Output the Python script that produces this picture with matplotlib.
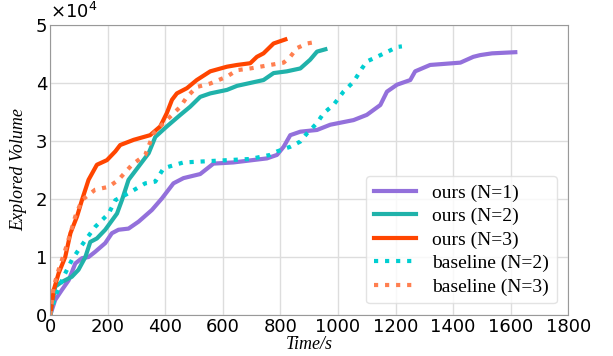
import numpy as np
import matplotlib
matplotlib.use('Agg')
import matplotlib.pyplot as plt

# values in units of 1e4
t_ours1 = [0, 17, 40, 64, 87, 110, 133, 156, 191, 214, 237, 272, 307, 353, 388, 428, 463, 521, 567,
           636, 753, 788, 811, 834, 869, 927, 973, 1054, 1100, 1147, 1170, 1205, 1251, 1268, 1320,
           1425, 1470, 1494, 1535, 1616]
v_ours1 = [0, 0.26, 0.43, 0.6, 0.89, 0.98, 1.0, 1.09, 1.24, 1.41, 1.47, 1.49, 1.61, 1.81, 2.01, 2.27,
           2.36, 2.43, 2.61, 2.63, 2.70, 2.76, 2.90, 3.10, 3.16, 3.19, 3.28, 3.36, 3.45, 3.62, 3.85,
           3.97, 4.05, 4.2, 4.31, 4.35, 4.45, 4.48, 4.51, 4.53]

t_ours2 = [0, 17, 40, 75, 98, 122, 139, 162, 191, 232, 249, 272, 307, 342, 365, 405, 452, 486, 521,
           556, 614, 649, 695, 741, 776, 822, 869, 903, 927, 956]
v_ours2 = [0, 0.49, 0.57, 0.66, 0.78, 1.0, 1.26, 1.32, 1.47, 1.75, 1.98, 2.33, 2.56, 2.79, 3.07, 3.25,
           3.45, 3.59, 3.76, 3.82, 3.88, 3.95, 4.0, 4.05, 4.17, 4.2, 4.25, 4.40, 4.54, 4.58]

t_ours3 = [0, 12, 29, 52, 70, 93, 110, 133, 162, 197, 226, 243, 290, 347, 382, 405, 423, 440, 475,
           509, 556, 614, 649, 695, 718, 741, 776, 817]
v_ours3 = [0, 0.43, 0.72, 1.0, 1.41, 1.70, 1.98, 2.33, 2.59, 2.67, 2.82, 2.93, 3.02, 3.10, 3.25, 3.48,
           3.71, 3.82, 3.91, 4.05, 4.20, 4.28, 4.31, 4.34, 4.45, 4.51, 4.68, 4.75]

t_base2 = [0, 17, 46, 75, 98, 122, 156, 203, 226, 272, 330, 365, 394, 434, 463, 579, 695, 764, 788,
           834, 869, 892, 927, 950, 984, 1019, 1054, 1083, 1100, 1135, 1181, 1205, 1222]
v_base2 = [0, 0.32, 0.66, 0.95, 1.12, 1.29, 1.52, 1.75, 1.98, 2.10, 2.27, 2.30, 2.53, 2.59, 2.63, 2.66,
           2.69, 2.76, 2.82, 2.90, 2.99, 3.13, 3.31, 3.48, 3.62, 3.85, 4.02, 4.25, 4.37, 4.45, 4.56,
           4.62, 4.63]

t_base3 = [0, 12, 29, 52, 70, 87, 110, 156, 203, 237, 284, 330, 359, 382, 417, 452, 475, 509, 556,
           614, 649, 695, 764, 811, 834, 857, 892, 927]
v_base3 = [0, 0.49, 0.78, 1.12, 1.41, 1.70, 1.98, 2.16, 2.21, 2.33, 2.59, 2.76, 3.13, 3.25, 3.42, 3.59,
           3.76, 3.93, 3.99, 4.11, 4.22, 4.25, 4.31, 4.35, 4.45, 4.60, 4.68, 4.71]

x_ticks = [0, 200, 400, 600, 800, 1000, 1200, 1400, 1600, 1800]
y_ticks = [0, 1, 2, 3, 4, 5]

serif = ['Liberation Serif', 'DejaVu Serif']

fig, ax = plt.subplots(figsize=(6.13, 3.56), dpi=100)
fig.subplots_adjust(left=0.082, right=0.927, top=0.93, bottom=0.115)

ax.plot(t_ours1, v_ours1, color='mediumpurple', lw=3, label='ours (N=1)')
ax.plot(t_ours2, v_ours2, color='lightseagreen', lw=3, label='ours (N=2)')
ax.plot(t_ours3, v_ours3, color='orangered', lw=3, label='ours (N=3)')
ax.plot(t_base2, v_base2, color='darkturquoise', lw=3, linestyle=':', label='baseline (N=2)')
ax.plot(t_base3, v_base3, color='coral', lw=3, linestyle=':', label='baseline (N=3)')

ax.set_xlim(0, 1800)
ax.set_ylim(0, 5)
ax.set_xticks(x_ticks)
ax.set_yticks(y_ticks)
ax.tick_params(labelsize=13, length=0, pad=2)
ax.grid(color='#dddddd', linewidth=1)
for s in ax.spines.values():
    s.set_color('#999999')

ax.text(0.0, 1.01, r'$\times10^4$', transform=ax.transAxes, fontsize=13, va='bottom', ha='left')

ax.set_xlabel('Time/s', family=serif, style='italic', fontsize=13, labelpad=0)
ax.set_ylabel('Explored Volume', family=serif, style='italic', fontsize=13, labelpad=6)

leg = ax.legend(loc='lower right', prop={'family': serif, 'size': 14}, handlelength=2.2,
                borderaxespad=0.6, labelspacing=0.3)
leg.get_frame().set_edgecolor('#dddddd')

plt.savefig('out.png')
